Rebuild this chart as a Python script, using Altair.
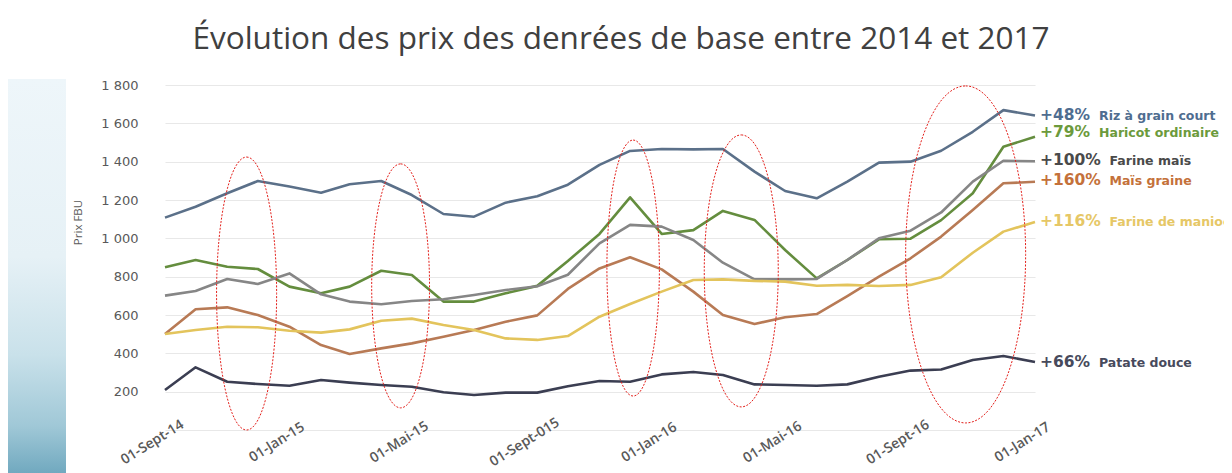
import altair as alt
import pandas as pd

# ---------------- data ----------------
months = [
    "2014-09-01", "2014-10-01", "2014-11-01", "2014-12-01",
    "2015-01-01", "2015-02-01", "2015-03-01", "2015-04-01", "2015-05-01", "2015-06-01",
    "2015-07-01", "2015-08-01", "2015-09-01", "2015-10-01", "2015-11-01", "2015-12-01",
    "2016-01-01", "2016-02-01", "2016-03-01", "2016-04-01", "2016-05-01", "2016-06-01",
    "2016-07-01", "2016-08-01", "2016-09-01", "2016-10-01", "2016-11-01", "2016-12-01",
    "2017-01-01",
]

riz = [1108, 1165, 1235, 1299, 1270, 1238, 1282, 1299, 1226, 1127, 1113, 1186, 1220, 1280,
       1383, 1456, 1466, 1464, 1466, 1348, 1247, 1209, 1296, 1395, 1400, 1457, 1556, 1669, 1641]
haricot = [849, 887, 852, 840, 748, 713, 748, 831, 809, 670, 670, 713, 752, 882,
           1023, 1214, 1023, 1043, 1143, 1096, 939, 791, 887, 995, 998, 1095, 1235, 1478, 1530]
farine_mais = [701, 725, 788, 762, 817, 708, 670, 656, 673, 682, 704, 730, 750, 810,
               974, 1070, 1061, 991, 873, 786, 786, 788, 887, 1000, 1040, 1135, 1296, 1405, 1402]
mais_graine = [501, 630, 640, 600, 539, 443, 397, 426, 452, 487, 522, 565, 598, 736,
               843, 901, 838, 722, 600, 553, 588, 605, 699, 800, 896, 1009, 1148, 1287, 1295]
manioc = [501, 522, 539, 536, 518, 508, 525, 570, 581, 548, 522, 478, 470, 490,
          591, 657, 722, 783, 786, 778, 774, 753, 757, 751, 757, 797, 925, 1035, 1085]
patate = [209, 327, 252, 240, 231, 261, 247, 235, 226, 197, 183, 195, 195, 228,
          256, 252, 290, 303, 287, 238, 235, 231, 238, 278, 310, 316, 365, 386, 355]

series_names = ["Riz à grain court", "Haricot ordinaire", "Farine maïs",
                "Maïs graine", "Farine de manioc", "Patate douce"]
series_values = [riz, haricot, farine_mais, mais_graine, manioc, patate]
pct_labels = ["+48%", "+79%", "+100%", "+160%", "+116%", "+66%"]

tick_dates = ["2014-09-01", "2015-01-01", "2015-05-01", "2015-09-01",
              "2016-01-01", "2016-05-01", "2016-09-01", "2017-01-01"]
tick_labels = ["01-Sept-14", "01-Jan-15", "01-Mai-15", "01-Sept-015",
               "01-Jan-16", "01-Mai-16", "01-Sept-16", "01-Jan-17"]
y_ticks = [0, 200, 400, 600, 800, 1000, 1200, 1400, 1600, 1800]

title_text = "Évolution des prix des denrées de base entre 2014 et 2017"
y_title = "Prix FBU"

# highlighted periods (red dotted ellipses): centre date, centre price
ellipse_dates = ["2014-11-20", "2015-04-20", "2015-12-04", "2016-03-19", "2016-10-25"]
ellipse_prices = [712, 752, 845, 830, 916]

# ---------------- styles ----------------
line_colors = ["#5b7089", "#648d3e", "#868686", "#b87a55", "#e3c45c", "#3b3e52"]
label_colors = ["#4f6d90", "#6c9a3c", "#4a4a4a", "#c4713a", "#e6c766", "#474a5c"]
label_dy = [0, -5, -1, -2, -1, 0]
ellipse_heights = [273, 244, 256, 272, 337]      # px
ellipse_ratio = [0.22, 0.237, 0.205, 0.272, 0.356]  # half-width / half-height

W, H = 870, 345
PAD = {"left": 157, "top": 77, "right": 189, "bottom": 43}


def ellipse_path(a):
    k = 0.5523
    return (f"M0,-1 C{k*a:.4f},-1 {a:.4f},{-k:.4f} {a:.4f},0 "
            f"C{a:.4f},{k:.4f} {k*a:.4f},1 0,1 "
            f"C{-k*a:.4f},1 {-a:.4f},{k:.4f} {-a:.4f},0 "
            f"C{-a:.4f},{-k:.4f} {-k*a:.4f},-1 0,-1 Z")


def dt(s):
    y, m, d = (int(p) for p in s.split("-"))
    return alt.DateTime(year=y, month=m, date=d, utc=True)


rows = []
for name, vals in zip(series_names, series_values):
    for m, v in zip(months, vals):
        rows.append({"mois": m, "serie": name, "prix": v})
df = pd.DataFrame(rows)

label_map = ", ".join(f"'{d}': '{l}'" for d, l in zip(tick_dates, tick_labels))
x_label_expr = "{" + label_map + "}[utcFormat(datum.value, '%Y-%m-%d')]"

x_scale = alt.Scale(type="utc", domain=[dt(months[0]), dt(months[-1])], nice=False)
y_scale = alt.Scale(domain=[0, 1800], nice=False)

x_axis = alt.Axis(
    values=[dt(d) for d in tick_dates], labelExpr=x_label_expr, title=None,
    labelAngle=-32, labelAlign="center", labelBaseline="middle",
    labelFont="Open Sans", labelFontSize=14, labelColor="#595959",
    labelFontWeight=600, domain=False, ticks=False, grid=False,
    labelPadding=12, labelOffset=-13,
    labelOverlap=False, labelBound=False, labelFlush=False,
)
y_axis = alt.Axis(
    values=y_ticks, title=y_title,
    labelExpr="datum.value == 0 ? '' : replace(format(datum.value, ','), ',', ' ')",
    labelFont="DejaVu Sans", labelFontSize=13, labelColor="#595959", labelPadding=27,
    domain=False, ticks=False, grid=True, gridColor="#e8e8e8", gridWidth=1.2,
    titleFont="Open Sans", titleFontSize=11.5, titleFontWeight="normal",
    titleColor="#595959", titleX=-87, titleY=137, titleBaseline="middle",
    titleAngle=270, titleAlign="center",
)

X = alt.X("mois:T", scale=x_scale, axis=x_axis)
Y = alt.Y("prix:Q", scale=y_scale, axis=y_axis)

# background strip on the left (slide decoration)
strip = alt.Chart(pd.DataFrame({"k": [0]})).mark_rect(
    color=alt.Gradient(
        gradient="linear", x1=0, x2=0, y1=0, y2=1,
        stops=[
            alt.GradientStop(offset=0, color="#eef6fa"),
            alt.GradientStop(offset=0.45, color="#e6f1f6"),
            alt.GradientStop(offset=0.7, color="#c9e1ea"),
            alt.GradientStop(offset=0.88, color="#a0c8d7"),
            alt.GradientStop(offset=1, color="#71a9bf"),
        ],
    )
).encode(
    x=alt.value(-157), x2=alt.value(-99), y=alt.value(-6), y2=alt.value(H + 43)
)

lines = alt.Chart(df).mark_line(strokeWidth=2.6, strokeJoin="round").encode(
    x=X, y=Y,
    color=alt.Color("serie:N", scale=alt.Scale(domain=series_names, range=line_colors), legend=None),
    detail="serie:N",
)

layers = [strip, lines]

for i, name in enumerate(series_names):
    last = pd.DataFrame({"mois": [months[-1]], "prix": [series_values[i][-1]],
                         "pct": [pct_labels[i]], "nom": [name]})
    base = alt.Chart(last).encode(x=X, y=Y)
    layers.append(base.mark_text(
        align="left", baseline="middle", dx=5, dy=label_dy[i],
        font="DejaVu Sans", fontWeight="bold", fontSize=15.5, color=label_colors[i],
    ).encode(text="pct:N"))
    layers.append(base.mark_text(
        align="left", baseline="middle", dx=22 + 10.5 * len(pct_labels[i]), dy=label_dy[i] + 1,
        font="DejaVu Sans", fontWeight="bold", fontSize=12.5, color=label_colors[i],
    ).encode(text="nom:N"))

ell_df = pd.DataFrame({
    "mois": ellipse_dates,
    "prix": ellipse_prices,
    "forme": [ellipse_path(a) for a in ellipse_ratio],
    "taille": [h * h for h in ellipse_heights],
})
ellipses = alt.Chart(ell_df).mark_point(
    filled=False, stroke="#e3201b", strokeWidth=1, strokeDash=[2, 1.5], opacity=1
).encode(
    x=X, y=Y,
    shape=alt.Shape("forme:N", scale=None, legend=None),
    size=alt.Size("taille:Q", scale=None, legend=None),
)
layers.append(ellipses)

chart = alt.layer(*layers).properties(
    width=W, height=H,
    title=alt.TitleParams(
        text=title_text, font="Open Sans", fontSize=31.5, fontWeight="normal",
        color="#404040", anchor="middle", dx=21, offset=24,
    ),
    autosize=alt.AutoSizeParams(type="none"),
    padding=PAD,
    background="white",
).configure_view(stroke=None)

chart.save("out.html", embed_options={"renderer": "svg", "actions": False})
